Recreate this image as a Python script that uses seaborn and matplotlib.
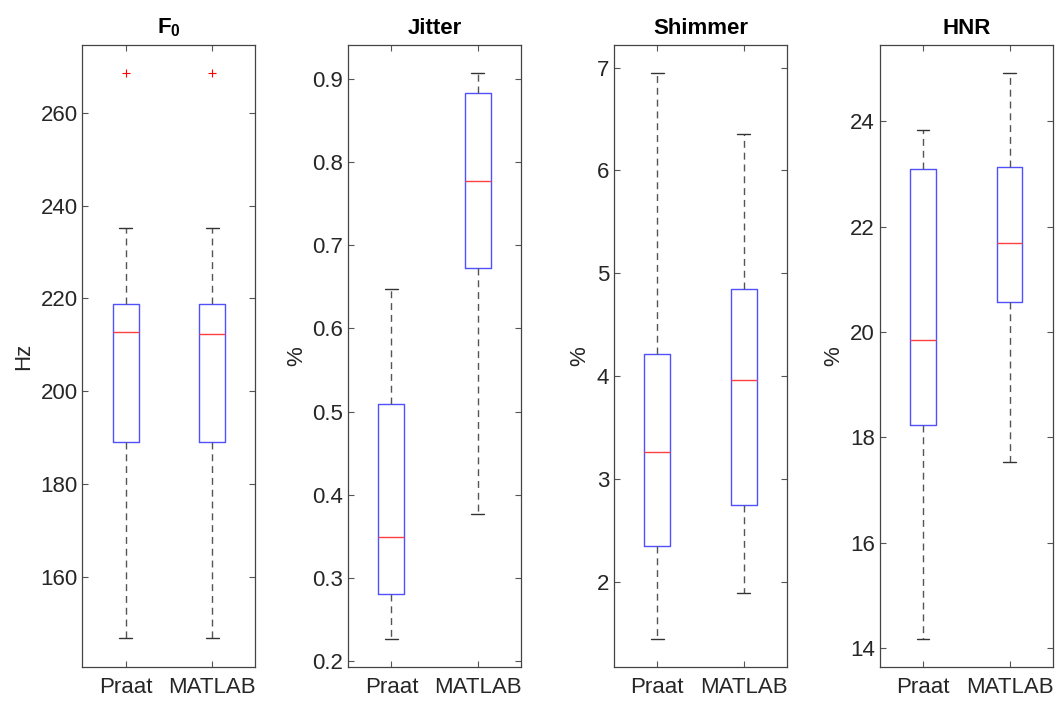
import numpy as np
import pandas as pd
import matplotlib
matplotlib.use("Agg")
import matplotlib.pyplot as plt
import seaborn as sns

# box summaries: [Praat, MATLAB]
methods = ["Praat", "MATLAB"]
features = ["F0", "Jitter", "Shimmer", "HNR"]
titles = [r"$\mathbf{F_0}$", "Jitter", "Shimmer", "HNR"]
ylabels = ["Hz", "%", "%", "%"]

f0_low = [146.8, 146.8]
f0_q1 = [189.0, 189.0]
f0_med = [212.7, 212.3]
f0_q3 = [218.7, 218.7]
f0_high = [235.1, 235.1]
f0_out = [[268.6], [268.6]]

jit_low = [0.2263, 0.3772]
jit_q1 = [0.2805, 0.6725]
jit_med = [0.3496, 0.7769]
jit_q3 = [0.5086, 0.8832]
jit_high = [0.6475, 0.9068]
jit_out = [[], []]

shim_low = [1.45, 1.89]
shim_q1 = [2.352, 2.745]
shim_med = [3.259, 3.961]
shim_q3 = [4.214, 4.851]
shim_high = [6.945, 6.355]
shim_out = [[], []]

hnr_low = [14.17, 17.53]
hnr_q1 = [18.23, 20.56]
hnr_med = [19.85, 21.68]
hnr_q3 = [23.09, 23.13]
hnr_high = [23.84, 24.92]
hnr_out = [[], []]

ylims = [(140.6, 274.6), (0.193, 0.941), (1.175, 7.22), (13.64, 25.45)]
yticks = [[160, 180, 200, 220, 240, 260],
          [0.2, 0.3, 0.4, 0.5, 0.6, 0.7, 0.8, 0.9],
          [2, 3, 4, 5, 6, 7],
          [14, 16, 18, 20, 22, 24]]

summaries = {
    "F0": (f0_low, f0_q1, f0_med, f0_q3, f0_high, f0_out),
    "Jitter": (jit_low, jit_q1, jit_med, jit_q3, jit_high, jit_out),
    "Shimmer": (shim_low, shim_q1, shim_med, shim_q3, shim_high, shim_out),
    "HNR": (hnr_low, hnr_q1, hnr_med, hnr_q3, hnr_high, hnr_out),
}


def summary_frame(feat):
    # points placed so that the quartiles land on the read-off values
    low, q1, med, q3, high, out = summaries[feat]
    rows = []
    for i, m in enumerate(methods):
        pts = [low[i], q1[i], q1[i], med[i], med[i], q3[i], q3[i], high[i]] + out[i]
        rows += [(m, v) for v in pts]
    return pd.DataFrame(rows, columns=["method", "value"])


sns.set_style("ticks")
plt.rcParams["font.family"] = ["Liberation Sans", "DejaVu Sans"]
plt.rcParams["mathtext.fontset"] = "custom"
plt.rcParams["mathtext.bf"] = "Liberation Sans:bold"
plt.rcParams["mathtext.rm"] = "Liberation Sans"

fig, axes = plt.subplots(1, 4, figsize=(10.57, 7.02), dpi=100)
fig.subplots_adjust(left=0.078, right=0.996, bottom=0.05, top=0.936, wspace=0.536)

dark = "#262626"
for ax, feat, title, ylab, lim, tks in zip(axes, features, titles, ylabels, ylims, yticks):
    df = summary_frame(feat)
    sns.boxplot(data=df, x="method", y="value", order=methods, ax=ax,
                width=0.3, fill=False, whis=1.5, linewidth=1,
                boxprops=dict(color="#5050ff"),
                medianprops=dict(color="#ff4040"),
                whiskerprops=dict(color="#555555", linestyle=(0, (5, 3.5))),
                capprops=dict(color="#333333"),
                flierprops=dict(marker="+", markeredgecolor="red",
                                markersize=6, markeredgewidth=0.8))
    ax.set_xlim(-0.5, 1.5)
    ax.set_ylim(*lim)
    ax.set_yticks(tks)
    ax.set_yticklabels([("%g" % t) for t in tks])
    ax.set_title(title, fontsize=16, fontweight="bold", pad=8, color="black")
    ax.set_ylabel(ylab, fontsize=16, color=dark)
    ax.set_xlabel(None)
    ax.tick_params(axis="both", direction="in", length=4, width=0.8,
                   color="#555555", labelsize=16, labelcolor=dark,
                   top=True, right=True)
    ax.tick_params(axis="x", pad=7)
    for sp in ax.spines.values():
        sp.set_visible(True)
        sp.set_color("#444444")
        sp.set_linewidth(0.9)

# label positions (right edge of rotated text) as in the reference
label_x = [-0.28, -0.238, -0.138, -0.203]
for ax, lx in zip(axes, label_x):
    ax.yaxis.set_label_coords(lx, 0.5)

fig.savefig("out.png", dpi=100, facecolor="white")
